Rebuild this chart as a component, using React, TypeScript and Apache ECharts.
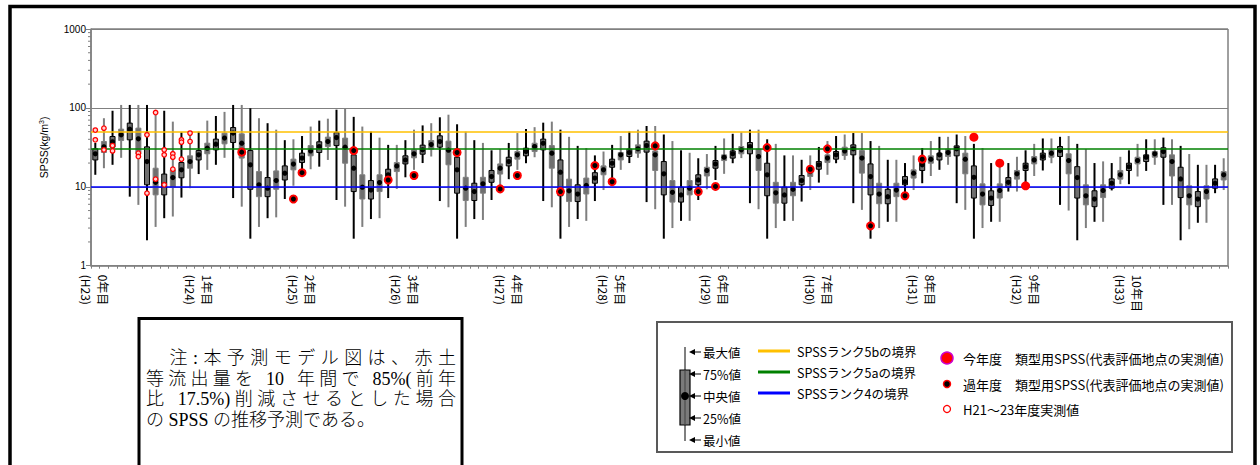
import React, { useEffect, useRef } from "react";
import * as echarts from "echarts";

// ---------- data ----------
const yearLabels = ["0年目", "1年目", "2年目", "3年目", "4年目", "5年目", "6年目", "7年目", "8年目", "9年目", "10年目"];
const fiscalYears = ["H23", "H24", "H25", "H26", "H27", "H28", "H29", "H30", "H31", "H32", "H33"];
const monthNames = ["4月", "5月", "6月", "7月", "8月", "9月", "10月", "11月", "12月", "1月", "2月", "3月"];
const categories = fiscalYears.flatMap((fy) => monthNames.map((m) => `${fy} ${m}`));

const minV = [
  14.2, 17.2, 19, 23.3, 7.5, 5.9, 2.1, 3.1, 4.0, 4.2, 7.3, 9.6,
  14.5, 16.4, 19, 23.3, 7.2, 5.6, 2.2, 3.1, 4.0, 4.1, 7.0, 10.3,
  14.2, 16.7, 18, 21.9, 6.8, 5.6, 2.2, 3.1, 3.9, 4.0, 7.2, 9.4,
  13.2, 16.4, 20, 24.2, 6.6, 5.5, 2.2, 3.1, 3.9, 3.8, 6.8, 9.4,
  12.5, 16.4, 19.9, 23.7, 6.6, 5.5, 2.2, 3.1, 3.9, 3.7, 6.6, 9.1,
  12.5, 16.4, 20, 23.3, 6.4, 5.2, 2.2, 3.0, 3.7, 3.7, 6.8, 9.3,
  12.2, 14.6, 19.9, 23.1, 6.2, 5.2, 2.2, 3.0, 3.7, 3.7, 6.5, 9.1,
  11.3, 14.2, 19.9, 21.9, 6.2, 5.1, 2.2, 3.0, 3.6, 3.6, 7.2, 9.1,
  11.1, 13.7, 16.4, 19.0, 6.2, 5.1, 2.2, 3.0, 3.6, 3.6, 8.7, 8.7,
  10.6, 13.7, 16.1, 19.9, 5.9, 5.0, 2.1, 3.0, 3.6, 3.6, 9.0, 10.8,
  10.8, 13.5, 15.9, 19.0, 5.9, 5.9, 2.1, 2.9, 3.5, 3.5, 8.3, 9.1,
];
const q1V = [
  21.9, 27.2, 31.8, 38.6, 39.4, 26.2, 10.6, 7.9, 7.9, 9.9, 13.0, 17.2,
  21.9, 26.2, 29.4, 35.0, 36.4, 23.1, 9.3, 7.5, 7.5, 9.3, 12.2, 16.4,
  20.3, 24.7, 27.2, 32.4, 33.3, 19.9, 8.7, 7.0, 7.0, 8.7, 11.3, 15.6,
  19.5, 23.3, 25.9, 30.0, 31.8, 19.0, 8.3, 6.7, 6.7, 8.3, 11.4, 14.5,
  18.4, 22.4, 24.7, 28.0, 29.4, 17.2, 7.7, 6.5, 6.5, 8.1, 11.1, 14.2,
  17.7, 21.9, 24.2, 26.7, 27.5, 16.1, 7.9, 6.4, 6.4, 7.9, 10.6, 13.7,
  17.2, 21.5, 23.1, 26.2, 26.2, 16.1, 7.7, 6.2, 6.2, 7.7, 10.6, 13.5,
  16.7, 20.3, 22.4, 24.9, 25.4, 14.9, 7.9, 6.1, 6.1, 7.5, 10.6, 12.9,
  16.1, 19.9, 21.9, 24.2, 24.7, 14.6, 7.2, 5.9, 5.8, 7.2, 9.9, 12.5,
  16.1, 19.5, 21.9, 23.7, 24.2, 14.6, 7.2, 5.9, 5.6, 7.3, 9.6, 12.5,
  16.1, 19.5, 20.9, 23.7, 23.7, 13.7, 7.3, 5.9, 5.6, 7.0, 9.6, 12.2,
];
const medV = [
  26.2, 32.1, 37.2, 45.6, 53.8, 40.5, 20.9, 11.4, 10.6, 13.1, 16.4, 20.9,
  25.4, 30.9, 34.7, 41.4, 47.9, 35.7, 19.0, 10.6, 9.6, 12.0, 14.9, 19.4,
  23.1, 28.5, 32.4, 37.5, 42.1, 31.8, 17.2, 9.9, 9.1, 11.3, 14.2, 18.4,
  21.9, 26.2, 29.4, 34.3, 37.5, 29.1, 16.4, 9.6, 8.7, 10.9, 13.5, 17.2,
  20.9, 25.4, 28.0, 32.4, 35.7, 26.7, 15.3, 8.9, 8.1, 10.4, 12.9, 16.4,
  19.9, 25.4, 27.2, 30.3, 33.3, 25.4, 14.6, 8.5, 7.9, 9.6, 12.2, 16.1,
  19.5, 23.7, 26.2, 29.4, 32.4, 24.2, 14.2, 8.4, 7.9, 9.3, 12.0, 15.6,
  19.0, 23.1, 25.4, 28.5, 30.3, 23.1, 13.5, 8.1, 7.5, 9.1, 11.6, 14.9,
  19.0, 22.4, 25.4, 27.2, 30.3, 22.4, 13.2, 8.1, 7.2, 9.0, 11.4, 14.6,
  18.0, 21.9, 24.2, 26.7, 28.8, 21.5, 13.1, 7.7, 7.0, 9.0, 11.1, 14.2,
  18.0, 21.5, 23.7, 26.2, 28.0, 20.9, 12.6, 7.7, 7.0, 8.7, 11.1, 14.2,
];
const q3V = [
  30.3, 37.5, 43.4, 53.8, 64.1, 55.4, 32.1, 17.2, 14.5, 16.4, 20.3, 24.7,
  28.8, 35.7, 40.2, 47.9, 56.4, 46.9, 28.8, 15.6, 13.1, 15.9, 18.4, 22.4,
  26.7, 33.3, 37.2, 42.6, 48.7, 41.4, 25.4, 14.2, 12.0, 14.2, 16.7, 20.3,
  24.7, 29.4, 33.7, 38.6, 44.3, 37.9, 23.7, 13.2, 11.1, 13.2, 16.1, 19.5,
  23.7, 28.0, 30.9, 35.7, 40.2, 33.3, 21.9, 12.5, 10.6, 12.9, 15.1, 18.4,
  22.4, 27.2, 30.0, 34.0, 37.9, 28.5, 20.9, 12.0, 9.9, 12.0, 14.2, 17.7,
  21.5, 25.4, 28.5, 32.4, 36.4, 30.0, 19.9, 11.4, 9.9, 11.4, 13.9, 18.0,
  20.9, 25.4, 28.0, 31.8, 34.0, 28.8, 19.5, 11.1, 9.3, 11.1, 13.5, 16.4,
  22.4, 24.7, 26.7, 30.0, 33.0, 26.7, 18.4, 10.9, 8.9, 10.9, 13.1, 16.1,
  19.9, 24.2, 26.7, 29.4, 32.4, 26.2, 18.0, 10.6, 8.9, 10.6, 12.6, 16.1,
  19.9, 23.7, 25.4, 28.0, 31.2, 25.4, 17.7, 10.3, 8.7, 10.3, 12.6, 15.6,
];
const maxV = [
  36, 74, 92, 109, 109, 109, 109, 92, 92, 67, 49, 50,
  50, 69, 79, 89, 109, 109, 99, 74, 64, 53, 39, 40,
  44, 58, 69, 73, 95, 99, 77, 58, 50, 42, 34, 34,
  39, 53, 60, 64, 76, 82, 62, 50, 39, 36, 29, 30,
  36, 48, 54, 57, 65, 67, 53, 43, 33, 31, 25, 28,
  34, 44, 50, 53, 59, 59, 46, 38, 29, 27, 23, 26,
  33, 41, 47, 49, 53, 53, 40, 35, 25, 25, 22, 25,
  32, 38, 44, 46, 48, 48, 38, 33, 22, 22, 20, 25,
  31, 38, 43, 43, 46, 44, 35, 31, 20, 20, 20, 24,
  29, 35, 41, 41, 43, 44, 35, 30, 20, 21, 20, 24,
  29, 35, 40, 40, 42, 40, 33, 26, 19, 19, 19, 23,
];

// H21〜23年度実測値 [category index, value]
const surveyH21to23 = [
  [0, 52.3], [0, 39.4], [1, 55.4], [1, 29.4], [2, 33.3], [2, 28.5],
  [5, 26.7], [5, 24.2], [6, 45.6], [6, 8.3], [7, 87.4], [7, 12.5],
  [8, 29.4], [8, 25.4], [8, 10.6], [9, 26.2], [9, 23.7], [9, 16.7],
  [10, 39.4], [10, 36.8], [10, 22.4], [11, 47.9], [11, 37.5],
];
// 過年度 類型用SPSS
const pastYears = [
  [17, 27.5], [23, 7.0], [24, 15.1], [30, 28.8], [34, 12.2], [37, 13.9], [42, 27.2],
  [47, 9.4], [49, 13.9], [54, 8.7], [58, 18.6], [60, 11.6], [65, 33.0], [70, 8.7],
  [72, 10.1], [78, 31.4], [83, 16.7], [85, 30.3], [90, 3.2], [94, 7.7], [96, 22.4],
];
// 今年度 類型用SPSS
const currentYear = [[102, 42.6], [105, 19.9], [108, 10.3]];

const RANK_5B = 50;
const RANK_5A = 30;
const RANK_4 = 10;

const minorTickValues = [2, 3, 4, 5, 6, 7, 8, 9, 20, 30, 40, 50, 60, 70, 80, 90, 200, 300, 400, 500, 600, 700, 800, 900];

const noteLines = [
  "　注:本予測モデル図は、赤土",
  "等流出量を 10 年間で 85%(前年",
  "比 17.5%)削減させるとした場合",
  "の SPSS の推移予測である。",
];

// ---------- helpers ----------
const CJK = '"Noto Sans CJK JP", "Noto Sans CJK SC", sans-serif';
const NOTE_FONT = '"Liberation Serif", "Noto Sans CJK JP", serif';
const SANS = '"Liberation Sans", Arial, sans-serif';

function txt(x: number, y: number, text: string, fontSize: number, extra: any = {}) {
  return {
    type: "text",
    x,
    y,
    silent: true,
    style: {
      text,
      fill: "#000",
      fontSize,
      fontFamily: CJK,
      textAlign: "left",
      textVerticalAlign: "middle",
      align: "left",
      verticalAlign: "middle",
      ...extra,
    },
  };
}

function justifiedNote(x0: number, x1: number, y0: number, gap: number, fontSize: number) {
  const canvas = document.createElement("canvas");
  const ctx = canvas.getContext("2d") as CanvasRenderingContext2D;
  ctx.font = `300 ${fontSize}px ${NOTE_FONT}`;
  const els: any[] = [];
  noteLines.forEach((line, li) => {
    const tokens = line.match(/[!-~]+|./gu) || [];
    const widths = tokens.map((t) => ctx.measureText(t).width);
    const total = widths.reduce((a, b) => a + b, 0);
    const justify = li < noteLines.length - 1;
    const g = justify && tokens.length > 1 ? (x1 - x0 - total) / (tokens.length - 1) : 0;
    let x = x0;
    tokens.forEach((t, ti) => {
      if (t.trim() !== "") {
        els.push({
          type: "text",
          x,
          y: y0 + li * gap,
          silent: true,
          style: {
            text: t,
            fill: "#000",
            fontSize,
            fontWeight: 300,
            fontFamily: NOTE_FONT,
            textAlign: "left",
            textVerticalAlign: "middle",
            align: "left",
            verticalAlign: "middle",
          },
        });
      }
      x += widths[ti] + g;
    });
  });
  return els;
}

function legendArrow(y: number) {
  return [
    { type: "polygon", silent: true, shape: { points: [[689, y], [695, y - 3], [695, y + 3]] }, style: { fill: "#000" } },
    { type: "line", silent: true, shape: { x1: 694, y1: y, x2: 701, y2: y }, style: { stroke: "#000", lineWidth: 1 } },
  ];
}

export default function App() {
  const ref = useRef<HTMLDivElement>(null);

  useEffect(() => {
    if (!ref.current) return;
    const chart = echarts.init(ref.current, undefined, { renderer: "svg" });

    const boxData = categories.map((_, i) => [i, minV[i], q1V[i], medV[i], q3V[i], maxV[i]]);

    const graphic: any[] = [
      // outer frame
      { type: "rect", silent: true, shape: { x: 10, y: 6.5, width: 1245, height: 600 }, style: { fill: "none", stroke: "#000", lineWidth: 3.5 } },
      // note box
      { type: "rect", silent: true, shape: { x: 139, y: 318.5, width: 323, height: 300 }, style: { fill: "#fff", stroke: "#000", lineWidth: 3 } },
      ...justifiedNote(146, 456, 358, 20.5, 18),
      // legend box
      { type: "rect", silent: true, shape: { x: 657, y: 322, width: 575, height: 130 }, style: { fill: "#fff", stroke: "#595959", lineWidth: 2 } },
      // box icon
      { type: "line", silent: true, shape: { x1: 685, y1: 347, x2: 685, y2: 441 }, style: { stroke: "#000", lineWidth: 1 } },
      { type: "rect", silent: true, shape: { x: 680, y: 370, width: 10, height: 55 }, style: { fill: "#7a7a7a", stroke: "#000", lineWidth: 1.2 } },
      { type: "line", silent: true, shape: { x1: 685, y1: 370, x2: 685, y2: 425 }, style: { stroke: "#404040", lineWidth: 1 } },
      { type: "circle", silent: true, shape: { cx: 685, cy: 396, r: 4 }, style: { fill: "#000" } },
      ...legendArrow(352), txt(703, 352, "最大値", 12.5),
      ...legendArrow(374), txt(703, 374, "75%値", 12.5),
      ...legendArrow(396), txt(703, 396, "中央値", 12.5),
      ...legendArrow(418), txt(703, 418, "25%値", 12.5),
      ...legendArrow(440), txt(703, 440, "最小値", 12.5),
      // threshold legend
      { type: "line", silent: true, shape: { x1: 758, y1: 351, x2: 790, y2: 351 }, style: { stroke: "#FFC000", lineWidth: 3 } },
      { type: "line", silent: true, shape: { x1: 758, y1: 372, x2: 790, y2: 372 }, style: { stroke: "#008000", lineWidth: 3 } },
      { type: "line", silent: true, shape: { x1: 758, y1: 393, x2: 790, y2: 393 }, style: { stroke: "#0000FF", lineWidth: 3 } },
      txt(797, 351, "SPSSランク5bの境界", 12.5),
      txt(797, 372, "SPSSランク5aの境界", 12.5),
      txt(797, 393, "SPSSランク4の境界", 12.5),
      // marker legend
      { type: "circle", silent: true, shape: { cx: 947, cy: 358, r: 6 }, style: { fill: "#FF0000", stroke: "#CC00CC", lineWidth: 1.5 } },
      { type: "circle", silent: true, shape: { cx: 947, cy: 384, r: 3.5 }, style: { fill: "#000", stroke: "#FF0000", lineWidth: 1.5 } },
      { type: "circle", silent: true, shape: { cx: 947, cy: 409, r: 3.5 }, style: { fill: "#fff", stroke: "#FF0000", lineWidth: 1.3 } },
      txt(963, 358, "今年度　類型用SPSS(代表評価地点の実測値)", 13),
      txt(963, 384, "過年度　類型用SPSS(代表評価地点の実測値)", 13),
      txt(963, 409, "H21～23年度実測値", 13),
    ];

    const option: any = {
      animation: false,
      backgroundColor: "#fff",
      grid: {
        left: 91,
        top: 29,
        width: 1137,
        height: 236.7,
        show: true,
        borderColor: "#404040",
        borderWidth: 1,
        backgroundColor: "#fff",
      },
      xAxis: {
        type: "category",
        data: categories,
        boundaryGap: true,
        axisLine: { lineStyle: { color: "#808080", width: 1.5 } },
        axisTick: { show: true, interval: 0, length: 3, lineStyle: { color: "#808080" } },
        axisLabel: {
          interval: 11,
          rotate: -90,
          margin: 9,
          fontSize: 12,
          lineHeight: 17,
          color: "#000",
          fontFamily: CJK,
          formatter: (_v: string, idx: number) =>
            idx % 12 === 0 ? `${yearLabels[idx / 12]}\n(${fiscalYears[idx / 12]})` : "",
        },
        splitLine: { show: false },
      },
      yAxis: {
        type: "log",
        logBase: 10,
        min: 1,
        max: 1000,
        name: "SPSS(kg/m{sup|3})",
        nameLocation: "middle",
        nameGap: 42,
        nameRotate: 90,
        nameTextStyle: {
          fontSize: 10.5,
          color: "#000",
          fontFamily: SANS,
          rich: { sup: { fontSize: 7, verticalAlign: "top", fontFamily: SANS } },
        },
        axisLine: { show: true, lineStyle: { color: "#808080", width: 1.5 } },
        axisTick: { show: true, length: 5, lineStyle: { color: "#808080" } },
        axisLabel: {
          fontSize: 10,
          color: "#000",
          margin: 5,
          fontFamily: SANS,
          formatter: (v: number) => String(Math.round(v)),
        },
        splitLine: { show: true, lineStyle: { color: "#808080", width: 1 } },
      },
      series: [
        {
          type: "custom",
          name: "minorTicks",
          silent: true,
          clip: false,
          z: 1,
          data: minorTickValues.map((v) => [0, v]),
          encode: { x: 0, y: 1 },
          renderItem: (params: any, api: any) => {
            const p = api.coord([0, api.value(1)]);
            const x0 = params.coordSys.x;
            return {
              type: "line",
              shape: { x1: x0 - 3, y1: p[1], x2: x0, y2: p[1] },
              style: { stroke: "#808080", lineWidth: 1 },
            };
          },
        },
        {
          type: "custom",
          name: "box",
          silent: true,
          z: 2,
          data: boxData,
          encode: { x: 0, y: [1, 2, 3, 4, 5] },
          renderItem: (_params: any, api: any) => {
            const i = api.value(0);
            const lo = api.coord([i, api.value(1)]);
            const q1 = api.coord([i, api.value(2)]);
            const md = api.coord([i, api.value(3)]);
            const q3 = api.coord([i, api.value(4)]);
            const hi = api.coord([i, api.value(5)]);
            const w = 5;
            const stroke = i % 2 === 0 ? "#000" : "#7f7f7f";
            return {
              type: "group",
              children: [
                { type: "line", shape: { x1: lo[0], y1: lo[1], x2: hi[0], y2: hi[1] }, style: { stroke, lineWidth: 2 } },
                {
                  type: "rect",
                  shape: { x: q3[0] - w / 2, y: q3[1], width: w, height: q1[1] - q3[1] },
                  style: { fill: "#6f6f6f", stroke, lineWidth: 1 },
                },
                { type: "circle", shape: { cx: md[0], cy: md[1], r: 2.6 }, style: { fill: "#000" } },
              ],
            };
          },
          markLine: {
            silent: true,
            symbol: "none",
            label: { show: false },
            z: 5,
            data: [
              { yAxis: RANK_5B, lineStyle: { color: "#FFC000", width: 1.5, type: "solid" } },
              { yAxis: RANK_5A, lineStyle: { color: "#008000", width: 1.5, type: "solid" } },
              { yAxis: RANK_4, lineStyle: { color: "#0000FF", width: 1.5, type: "solid" } },
            ],
          },
        },
        {
          type: "scatter",
          name: "H21～23年度実測値",
          silent: true,
          z: 6,
          symbol: "circle",
          symbolSize: 4.5,
          itemStyle: { color: "#ffd0d0", borderColor: "#FF0000", borderWidth: 1.3, opacity: 1 },
          data: surveyH21to23,
        },
        {
          type: "scatter",
          name: "過年度",
          silent: true,
          z: 7,
          symbol: "circle",
          symbolSize: 7,
          itemStyle: { color: "#000", borderColor: "#FF0000", borderWidth: 2, opacity: 1 },
          data: pastYears,
        },
        {
          type: "scatter",
          name: "今年度",
          silent: true,
          z: 8,
          symbol: "circle",
          symbolSize: 9,
          itemStyle: { color: "#FF0000", opacity: 1 },
          data: currentYear,
        },
      ],
      graphic,
    };

    chart.setOption(option);
    return () => chart.dispose();
  }, []);

  return (
    <div
      ref={ref}
      style={{ position: "fixed", left: 0, top: 0, width: 1260, height: 465, background: "#fff" }}
    />
  );
}
